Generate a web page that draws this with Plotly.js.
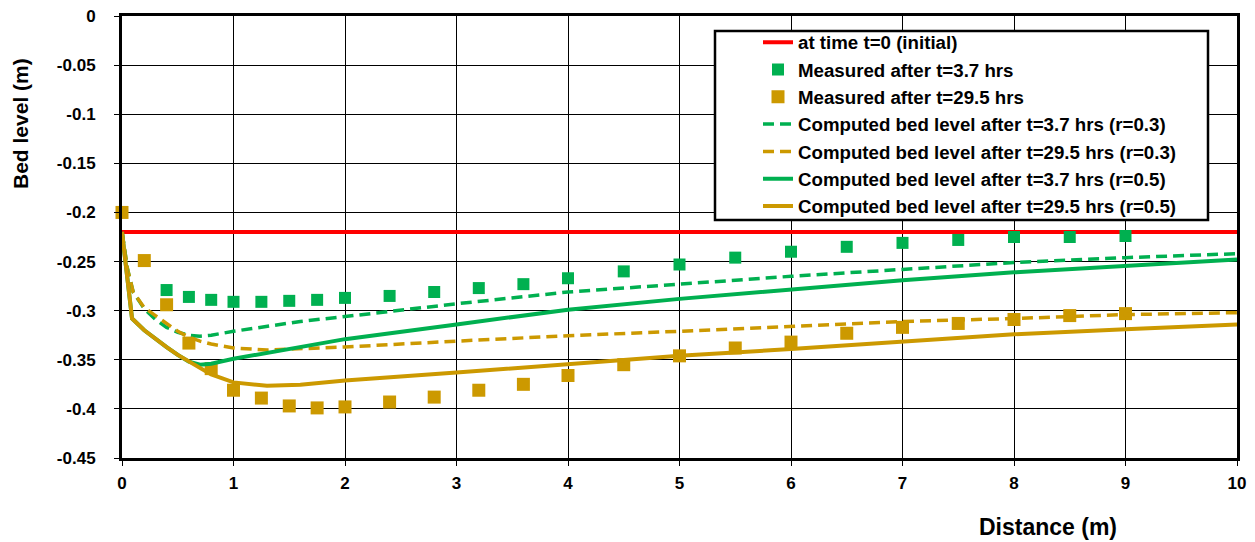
<!DOCTYPE html>
<html>
<head>
<meta charset="utf-8">
<script src="https://cdn.plot.ly/plotly-3.0.1.min.js"></script>
<style>html,body{margin:0;padding:0;background:#fff;}#chart{width:1255px;height:542px;}</style>
</head>
<body>
<div id="chart"></div>
<script>
// Initial bed level
const xInitial = [0, 10];
const yInitial = [-0.22, -0.22];

// Measured after t=3.7 hrs
const xMeas37 = [0.4,0.6,0.8,1.0,1.25,1.5,1.75,2.0,2.4,2.8,3.2,3.6,4.0,4.5,5.0,5.5,6.0,6.5,7.0,7.5,8.0,8.5,9.0];
const yMeas37 = [-0.279,-0.286,-0.289,-0.291,-0.291,-0.290,-0.289,-0.287,-0.285,-0.281,-0.277,-0.273,-0.267,-0.260,-0.253,-0.246,-0.240,-0.235,-0.231,-0.228,-0.225,-0.225,-0.224];

// Measured after t=29.5 hrs
const xMeas295 = [0,0.2,0.4,0.6,0.8,1.0,1.25,1.5,1.75,2.0,2.4,2.8,3.2,3.6,4.0,4.5,5.0,5.5,6.0,6.5,7.0,7.5,8.0,8.5,9.0];
const yMeas295 = [-0.200,-0.249,-0.294,-0.333,-0.359,-0.381,-0.389,-0.397,-0.399,-0.398,-0.393,-0.388,-0.381,-0.375,-0.366,-0.355,-0.346,-0.338,-0.332,-0.323,-0.317,-0.313,-0.309,-0.305,-0.303];

// Computed r=0.3
const xComp03 = [0,0.05,0.1,0.2,0.3,0.4,0.5,0.6,0.7,0.8,1.0,1.3,1.6,2.0,3.0,4.0,5.0,6.0,7.0,8.0,9.0,10.0];
const yComp37_03  = [-0.22,-0.258,-0.281,-0.298,-0.309,-0.317,-0.322,-0.325,-0.326,-0.325,-0.321,-0.316,-0.311,-0.306,-0.293,-0.281,-0.273,-0.265,-0.258,-0.251,-0.246,-0.242];
const yComp295_03 = [-0.22,-0.258,-0.281,-0.297,-0.305,-0.313,-0.321,-0.327,-0.331,-0.334,-0.338,-0.340,-0.339,-0.337,-0.331,-0.3255,-0.321,-0.316,-0.311,-0.308,-0.304,-0.302];

// Computed r=0.5
const xComp05 = [0,0.09,0.2,0.3,0.4,0.5,0.6,0.7,0.8,1.0,1.3,1.6,2.0,3.0,4.0,5.0,6.0,7.0,8.0,9.0,10.0];
const yComp37_05  = [-0.22,-0.308,-0.320,-0.329,-0.337,-0.345,-0.352,-0.355,-0.354,-0.349,-0.343,-0.336,-0.329,-0.314,-0.299,-0.288,-0.278,-0.269,-0.261,-0.2545,-0.248];
const yComp295_05 = [-0.22,-0.308,-0.320,-0.329,-0.337,-0.345,-0.352,-0.359,-0.365,-0.373,-0.3765,-0.3755,-0.371,-0.363,-0.354,-0.346,-0.339,-0.331,-0.324,-0.319,-0.314];

// Tick labels
const xTickVals = [0,1,2,3,4,5,6,7,8,9,10];
const xTickText = ['0','1','2','3','4','5','6','7','8','9','10'];
const yTickVals = [0,-0.05,-0.1,-0.15,-0.2,-0.25,-0.3,-0.35,-0.4,-0.45];
const yTickText = ['0','-0.05','-0.1','-0.15','-0.2','-0.25','-0.3','-0.35','-0.4','-0.45'];

const GREEN = '#00B050';
const GOLD = '#CC9900';
const RED = '#FF0000';
const dashPat = '11px,6px';
const FAM = 'Liberation Sans, Arial, sans-serif';
const b = s => '<b>' + s + '</b>';

const traces = [
  {x: xInitial, y: yInitial, mode: 'lines', name: b('at time t=0 (initial)'), legendgroup: 'a',
   line: {color: RED, width: 4}},
  {x: xMeas37, y: yMeas37, mode: 'markers', name: b('Measured after t=3.7 hrs'), legendgroup: 'b',
   marker: {symbol: 'square', size: 12, color: GREEN}, cliponaxis: false},
  {x: xMeas295, y: yMeas295, mode: 'markers', name: b('Measured after t=29.5 hrs'), legendgroup: 'c',
   marker: {symbol: 'square', size: 13, color: GOLD}, cliponaxis: false},
  {x: xComp03, y: yComp37_03, mode: 'lines', name: b('Computed bed level after t=3.7 hrs (r=0.3)'), legendgroup: 'd',
   line: {color: GREEN, width: 3.5, dash: dashPat}},
  {x: xComp03, y: yComp295_03, mode: 'lines', name: b('Computed bed level after t=29.5 hrs (r=0.3)'), legendgroup: 'e',
   line: {color: GOLD, width: 3.5, dash: dashPat}},
  {x: xComp05, y: yComp37_05, mode: 'lines', name: b('Computed bed level after t=3.7 hrs (r=0.5)'), legendgroup: 'f',
   line: {color: GREEN, width: 4}},
  {x: xComp05, y: yComp295_05, mode: 'lines', name: b('Computed bed level after t=29.5 hrs (r=0.5)'), legendgroup: 'g',
   line: {color: GOLD, width: 4}}
];

const tickFont = {family: FAM, size: 17, color: '#000'};
const PL = 122, PW = 1115, PT = 16, PH = 442;
const px2x = p => (p - PL) / PW;
const px2y = p => 1 - (p - PT) / PH;

const layout = {
  width: 1255, height: 542,
  margin: {l: PL, r: 1255 - PL - PW, t: PT, b: 542 - PT - PH},
  paper_bgcolor: '#fff', plot_bgcolor: '#fff',
  font: {family: FAM, color: '#000'},
  showlegend: true,
  xaxis: {
    range: [0, 10], tickmode: 'array', tickvals: xTickVals, ticktext: xTickText.map(b),
    showgrid: true, gridcolor: '#000', gridwidth: 1,
    zeroline: false, showline: true, linecolor: '#000', linewidth: 3, mirror: true,
    ticks: 'outside', ticklen: 5, tickwidth: 1, tickcolor: '#000',
    tickfont: tickFont, ticklabelstandoff: 3
  },
  yaxis: {
    range: [-0.45, 0], tickmode: 'array', tickvals: yTickVals, ticktext: yTickText.map(b),
    showgrid: true, gridcolor: '#000', gridwidth: 1,
    zeroline: false, showline: true, linecolor: '#000', linewidth: 3, mirror: true,
    ticks: 'outside', ticklen: 5, tickwidth: 1, tickcolor: '#000',
    tickfont: tickFont, ticklabelstandoff: 15
  },
  legend: {
    x: px2x(715), y: px2y(23.5), xanchor: 'left', yanchor: 'top',
    bgcolor: 'rgba(0,0,0,0)', borderwidth: 0,
    font: {family: FAM, size: 18.7, color: '#000'},
    tracegroupgap: 0, traceorder: 'grouped', indentation: 43
  },
  shapes: [
    {type: 'rect', xref: 'paper', yref: 'paper', layer: 'above',
     x0: px2x(715), x1: px2x(1208), y0: px2y(220), y1: px2y(31),
     fillcolor: '#fff', line: {color: '#000', width: 2.5}}
  ],
  annotations: [
    {text: b('Distance (m)'), xref: 'paper', yref: 'paper', x: px2x(1048), y: px2y(527),
     xanchor: 'center', yanchor: 'middle', showarrow: false,
     font: {family: FAM, size: 23, color: '#000'}},
    {text: b('Bed level (m)'), xref: 'paper', yref: 'paper', x: px2x(20), y: px2y(124),
     xanchor: 'center', yanchor: 'middle', showarrow: false, textangle: -90,
     font: {family: FAM, size: 21, color: '#000'}}
  ]
};

Plotly.newPlot('chart', traces, layout, {staticPlot: true, displayModeBar: false});
</script>
</body>
</html>
